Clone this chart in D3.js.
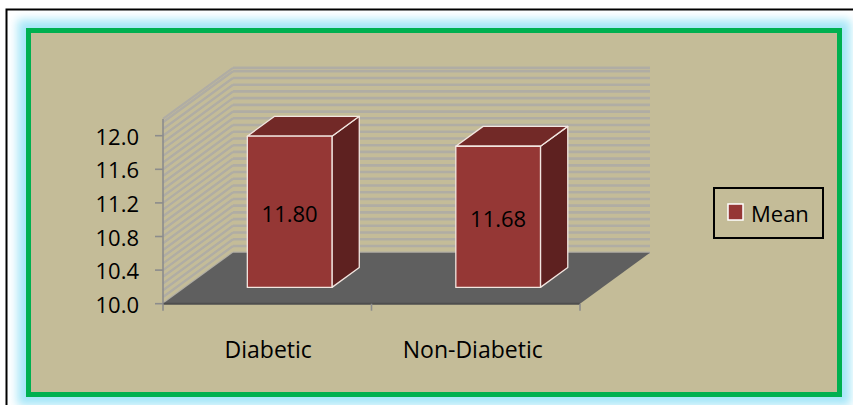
<!DOCTYPE html>
<html>
<head>
<meta charset="utf-8">
<script src="https://cdn.jsdelivr.net/npm/d3@7"></script>
<style>
  html, body { margin: 0; padding: 0; background: #ffffff; }
  svg { display: block; }
  text { font-family: "Open Sans", "DejaVu Sans", sans-serif; fill: #000; }
</style>
</head>
<body>
<script>
// Mean values per group
const categories = ["Diabetic", "Non-Diabetic"];
const meanValues = [11.80, 11.68];
const seriesNames = ["Mean"];
const yTickValues = [10.0, 10.4, 10.8, 11.2, 11.6, 12.0];
const yDomain = [10.0, 12.2];

const W = 853, H = 405;
const svg = d3.select("body").append("svg").attr("width", W).attr("height", H);

// Glow around the chart frame
const defs = svg.append("defs");
defs.append("filter").attr("id", "glow")
  .attr("x", "-10%").attr("y", "-10%").attr("width", "120%").attr("height", "120%")
  .append("feGaussianBlur").attr("stdDeviation", 5);
defs.append("filter").attr("id", "soft")
  .append("feGaussianBlur").attr("stdDeviation", 0.5);

svg.append("rect").attr("x", 0).attr("y", 0).attr("width", W).attr("height", H).attr("fill", "#fff");
svg.append("rect")
  .attr("x", 28.5).attr("y", 30.5).attr("width", 811).attr("height", 364)
  .attr("fill", "none").attr("stroke", "#a6e6f8").attr("stroke-width", 22)
  .attr("filter", "url(#glow)");
// Outer black frame (runs off the right and bottom edges)
svg.append("rect")
  .attr("x", 6.5).attr("y", 9.5).attr("width", 860).attr("height", 420)
  .attr("fill", "none").attr("stroke", "#000").attr("stroke-width", 2);
// Plot area panel with green border
svg.append("rect")
  .attr("x", 28.5).attr("y", 30.5).attr("width", 811).attr("height", 364)
  .attr("fill", "#c4bc98").attr("stroke", "#00b050").attr("stroke-width", 5);

// 3D projection: front plane scales plus a depth offset
const DX = 70, DY = 51;
const xLeft = 163, xRight = 580;
const y = d3.scaleLinear().domain(yDomain).range([303.7, 303.7 - 2.2 * 84]);
const x = d3.scaleBand().domain(categories).range([xLeft, xRight])
  .paddingInner(0.594).paddingOuter(0.297);
const proj = (px, v, z) => [px + z * DX, y(v) - z * DY];
const line = d3.line();

const g = svg.append("g");

// Back and side wall gridlines
const gridValues = d3.range(0, 28).map(k => 10 + k * 0.08).concat([yDomain[1]]);
const gridColor = "#b0ada4";
const grid = g.append("g").attr("filter", "url(#soft)");
grid.append("g").selectAll("path").data(gridValues).join("path")
  .attr("d", v => line([proj(xLeft, v, 1), proj(xRight, v, 1)]))
  .attr("stroke", gridColor).attr("stroke-width", 2.6).attr("fill", "none");
grid.append("g").selectAll("path").data(gridValues).join("path")
  .attr("d", v => line([proj(xLeft, v, 0), proj(xLeft, v, 1)]))
  .attr("stroke", gridColor).attr("stroke-width", 2.4).attr("fill", "none");

// Floor
g.append("path")
  .attr("d", line([proj(xLeft, 10, 0), proj(xRight, 10, 0), proj(xRight, 10, 1), proj(xLeft, 10, 1)]) + "Z")
  .attr("fill", "#5f5f5f");
g.append("path")
  .attr("d", line([proj(xLeft, 10, 0), proj(xRight, 10, 0)]))
  .attr("stroke", "#4e4e4e").attr("stroke-width", 2);

// Value axis
const axisColor = "#8c8c8c";
g.append("path").attr("d", line([[xLeft, y(yDomain[0])], [xLeft, y(yDomain[1])]]))
  .attr("stroke", axisColor).attr("stroke-width", 1.6);
g.append("g").selectAll("path").data(yTickValues).join("path")
  .attr("d", v => line([[xLeft - 8, y(v)], [xLeft, y(v)]]))
  .attr("stroke", axisColor).attr("stroke-width", 1.6);
g.append("g").selectAll("text").data(yTickValues).join("text")
  .attr("x", 139).attr("y", v => y(v))
  .attr("text-anchor", "end").attr("dominant-baseline", "central")
  .style("font-size", "22px")
  .text(d3.format(".1f"));

// Category axis ticks
const xTicks = [xLeft, xLeft + x.step(), xRight];
g.append("g").selectAll("path").data(xTicks).join("path")
  .attr("d", px => line([[px, y(10)], [px, y(10) + 7]]))
  .attr("stroke", axisColor).attr("stroke-width", 1.6);
g.append("g").selectAll("text").data(categories).join("text")
  .attr("x", (c, i) => x(c) + x.bandwidth() / 2 + (i ? -3 : 1))
  .attr("y", 349)
  .attr("text-anchor", "middle").attr("dominant-baseline", "central")
  .style("font-size", "23px")
  .text(c => c);

// Bars
const z0 = 0.32, z1 = 0.71;
const bars = categories.map((c, i) => ({ c, v: meanValues[i] }));
const barG = g.append("g").selectAll("g").data(bars).join("g");
function face(sel, fill, pts) {
  sel.append("path").attr("d", d => line(pts(d)) + "Z").attr("fill", fill)
    .attr("stroke", "#f2e6e0").attr("stroke-width", 1.3)
    .attr("stroke-linejoin", "round");
}
face(barG, "#5e2120", d => {
  const xr = x(d.c) + x.bandwidth();
  return [proj(xr, 10, z0), proj(xr, 10, z1), proj(xr, d.v, z1), proj(xr, d.v, z0)];
});
face(barG, "#722927", d => {
  const xl = x(d.c), xr = xl + x.bandwidth();
  return [proj(xl, d.v, z0), proj(xr, d.v, z0), proj(xr, d.v, z1), proj(xl, d.v, z1)];
});
face(barG, "#953735", d => {
  const xl = x(d.c), xr = xl + x.bandwidth();
  return [proj(xl, 10, z0), proj(xr, 10, z0), proj(xr, d.v, z0), proj(xl, d.v, z0)];
});
barG.append("text")
  .attr("x", d => proj(x(d.c) + x.bandwidth() / 2, 10, z0)[0])
  .attr("y", d => (proj(0, 10, z0)[1] + proj(0, d.v, z0)[1]) / 2 + 1)
  .attr("text-anchor", "middle").attr("dominant-baseline", "central")
  .style("font-size", "22px")
  .text(d => d.v.toFixed(2));

// Legend
const lg = svg.append("g").attr("transform", "translate(714,188)");
lg.append("rect").attr("width", 109).attr("height", 50)
  .attr("fill", "none").attr("stroke", "#000").attr("stroke-width", 2);
lg.selectAll("g").data(seriesNames).join("g").each(function (name) {
  const s = d3.select(this);
  s.append("rect").attr("x", 14).attr("y", 16).attr("width", 15).attr("height", 16)
    .attr("fill", "#953735").attr("stroke", "#fff").attr("stroke-width", 1.5);
  s.append("text").attr("x", 37).attr("y", 25)
    .attr("dominant-baseline", "central").style("font-size", "22px").text(name);
});
</script>
</body>
</html>
